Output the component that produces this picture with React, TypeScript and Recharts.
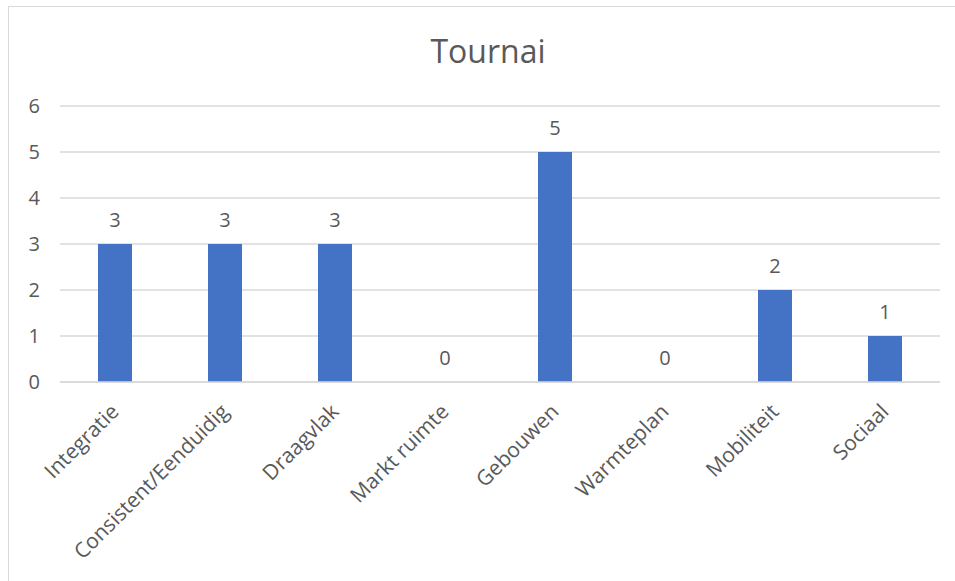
import { Bar, CartesianGrid, ComposedChart, LabelList, Line, XAxis, YAxis } from 'recharts'

const categories = [
  'Integratie',
  'Consistent/Eenduidig',
  'Draagvlak',
  'Markt ruimte',
  'Gebouwen',
  'Warmteplan',
  'Mobiliteit',
  'Sociaal',
]
const values = [3, 3, 3, 0, 5, 0, 2, 1]
const yTicks = [0, 1, 2, 3, 4, 5, 6]
const title = 'Tournai'

const data = categories.map((name, i) => ({ name, value: values[i] }))

const font = '"Open Sans", "Noto Sans", sans-serif'
const grey = '#595959'

function CategoryTick(props: any) {
  const { x, y, payload } = props
  return (
    <g transform={`translate(${x + 5},${y + 23})`}>
      <text transform="rotate(-45)" textAnchor="end" fill={grey} fontSize={21} fontFamily={font}>
        {payload.value}
      </text>
    </g>
  )
}

export default function App() {
  return (
    <div style={{ position: 'absolute', left: 8, top: 6, width: 947, height: 575, overflow: 'hidden' }}>
      <div
        style={{
          position: 'absolute',
          left: 0,
          top: 0,
          width: 960,
          height: 600,
          border: '1px solid #d9d9d9',
          boxSizing: 'border-box',
          background: '#fff',
        }}
      />
      <div
        style={{
          position: 'absolute',
          left: 480,
          top: 23,
          transform: 'translateX(-50%)',
          fontFamily: font,
          fontSize: 32,
          lineHeight: '44px',
          color: grey,
          whiteSpace: 'nowrap',
        }}
      >
        {title}
      </div>
      <div style={{ position: 'absolute', left: 0, top: 0 }}>
        <ComposedChart
          width={947}
          height={575}
          data={data}
          margin={{ top: 100, right: 15, bottom: 9, left: 8 }}
        >
          <CartesianGrid vertical={false} stroke="#d9d9d9" strokeWidth={1.3} />
          <XAxis
            dataKey="name"
            interval={0}
            height={190}
            axisLine={{ stroke: '#d9d9d9', strokeWidth: 1.3 }}
            tickLine={false}
            tick={<CategoryTick />}
          />
          <YAxis
            width={44}
            domain={[0, 6]}
            ticks={yTicks}
            axisLine={false}
            tickLine={false}
            tickMargin={14}
            tick={{ fill: grey, fontSize: 20, fontFamily: font }}
          />
          <Bar dataKey="value" fill="#4472C4" barSize={34} isAnimationActive={false} />
          <Line
            dataKey="value"
            stroke="none"
            dot={false}
            activeDot={false}
            isAnimationActive={false}
          >
            <LabelList
              dataKey="value"
              position="top"
              offset={17}
              fill={grey}
              fontSize={20}
              fontFamily={font}
            />
          </Line>
        </ComposedChart>
      </div>
    </div>
  )
}
